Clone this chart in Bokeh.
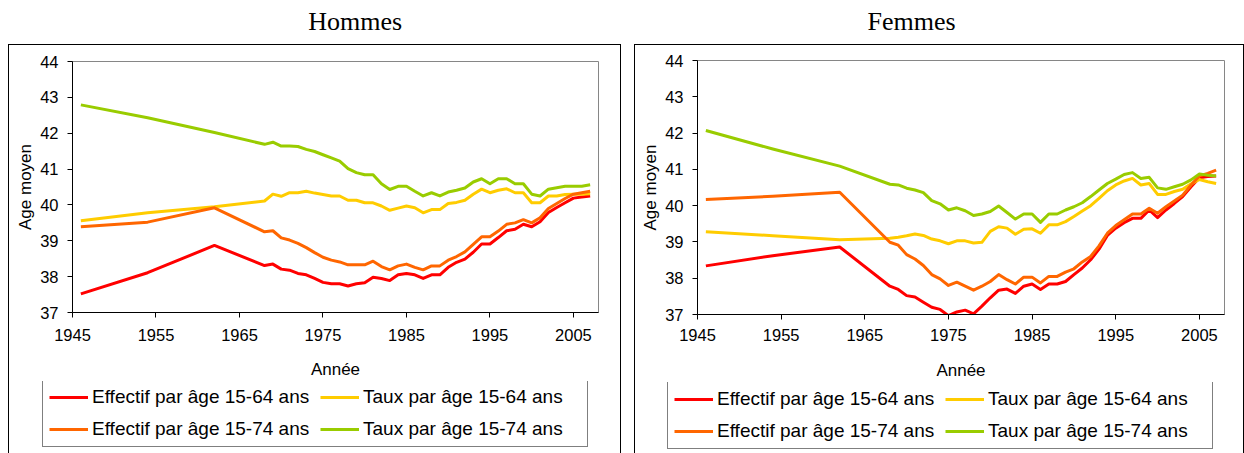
from bokeh.plotting import figure
from bokeh.models import Range1d, FixedTicker, Legend, LegendItem, Label, Spacer
from bokeh.layouts import row, column
from bokeh.embed import file_html
from bokeh.resources import INLINE

# ---------------- data ----------------
years = [1946, 1954, 1962] + list(range(1968, 2008))
x_ticks = [1945, 1955, 1965, 1975, 1985, 1995, 2005]
y_ticks = [37, 38, 39, 40, 41, 42, 43, 44]

labels = ["Effectif par âge 15-64 ans", "Taux par âge 15-64 ans",
          "Effectif par âge 15-74 ans", "Taux par âge 15-74 ans"]
colors = ["#FF0000", "#FFCC00", "#FF6600", "#99CC00"]

# Hommes
h_eff_1564 = [37.52, 38.11, 38.87,
              38.31, 38.35, 38.21, 38.18, 38.09, 38.05, 37.95, 37.84, 37.80, 37.80,
              37.74, 37.80, 37.83, 37.98, 37.95, 37.89, 38.05, 38.09, 38.05, 37.95,
              38.05, 38.05, 38.26, 38.40, 38.49, 38.68, 38.91, 38.91, 39.09, 39.28,
              39.32, 39.46, 39.39, 39.53, 39.79, 39.93, 40.06, 40.19, 40.22, 40.25]
h_taux_1564 = [39.56, 39.78, 39.95,
               40.11, 40.30, 40.24, 40.34, 40.34, 40.38, 40.33, 40.29, 40.25, 40.25,
               40.13, 40.13, 40.06, 40.06, 39.97, 39.85, 39.91, 39.97, 39.92, 39.78,
               39.87, 39.87, 40.04, 40.07, 40.13, 40.30, 40.44, 40.34, 40.41, 40.45,
               40.34, 40.34, 40.06, 40.06, 40.25, 40.25, 40.29, 40.30, 40.30, 40.31]
h_eff_1574 = [39.39, 39.52, 39.92,
              39.25, 39.28, 39.08, 39.02, 38.93, 38.81, 38.67, 38.54, 38.46, 38.41,
              38.33, 38.33, 38.33, 38.43, 38.28, 38.19, 38.30, 38.35, 38.26, 38.19,
              38.30, 38.30, 38.46, 38.56, 38.69, 38.90, 39.11, 39.11, 39.27, 39.46,
              39.50, 39.59, 39.50, 39.64, 39.90, 40.04, 40.18, 40.30, 40.34, 40.38]
h_taux_1574 = [42.79, 42.43, 42.02,
               41.69, 41.75, 41.64, 41.64, 41.63, 41.55, 41.49, 41.40, 41.31, 41.22,
               41.01, 40.90, 40.84, 40.84, 40.59, 40.43, 40.52, 40.52, 40.38, 40.25,
               40.34, 40.25, 40.36, 40.41, 40.47, 40.64, 40.73, 40.59, 40.73, 40.73,
               40.59, 40.59, 40.30, 40.25, 40.44, 40.48, 40.52, 40.52, 40.52, 40.56]

# Femmes
f_eff_1564 = [38.34, 38.62, 38.86,
              37.78, 37.69, 37.52, 37.48, 37.34, 37.20, 37.14, 36.97, 37.07, 37.12,
              37.02, 37.23, 37.46, 37.67, 37.70, 37.58, 37.78, 37.84, 37.69, 37.84,
              37.84, 37.91, 38.10, 38.28, 38.51, 38.80, 39.18, 39.38, 39.53, 39.65,
              39.65, 39.88, 39.67, 39.88, 40.06, 40.25, 40.52, 40.77, 40.80, 40.82]
f_taux_1564 = [39.28, 39.17, 39.06,
               39.10, 39.13, 39.17, 39.22, 39.18, 39.08, 39.03, 38.95, 39.03, 39.03,
               38.97, 38.99, 39.29, 39.42, 39.38, 39.21, 39.35, 39.36, 39.24, 39.47,
               39.47, 39.56, 39.70, 39.85, 40.00, 40.20, 40.41, 40.57, 40.68, 40.75,
               40.57, 40.61, 40.31, 40.31, 40.39, 40.45, 40.60, 40.72, 40.66, 40.61]
f_eff_1574 = [40.17, 40.26, 40.37,
              38.99, 38.91, 38.65, 38.53, 38.35, 38.10, 37.98, 37.80, 37.89, 37.78,
              37.67, 37.78, 37.91, 38.10, 37.96, 37.84, 38.03, 38.03, 37.87, 38.05,
              38.05, 38.17, 38.26, 38.45, 38.60, 38.89, 39.24, 39.45, 39.61, 39.77,
              39.77, 39.93, 39.79, 39.97, 40.13, 40.29, 40.57, 40.82, 40.89, 40.98]
f_taux_1574 = [42.07, 41.56, 41.09,
               40.59, 40.57, 40.48, 40.43, 40.36, 40.14, 40.05, 39.88, 39.94, 39.86,
               39.73, 39.77, 39.84, 39.99, 39.81, 39.63, 39.77, 39.77, 39.54, 39.77,
               39.77, 39.88, 39.97, 40.08, 40.25, 40.43, 40.61, 40.73, 40.86, 40.91,
               40.75, 40.78, 40.49, 40.45, 40.52, 40.59, 40.71, 40.87, 40.84, 40.82]

SANS = "Liberation Sans"
SERIF = "Liberation Serif"
BOX = {"border-top": "1px solid black", "border-left": "1px solid black",
       "border-right": "1px solid black"}


def bare_fig(width, height):
    f = figure(width=width, height=height, output_backend="svg", toolbar_location=None,
               x_axis_location=None, y_axis_location=None, min_border=0,
               x_range=Range1d(0, 1), y_range=Range1d(0, 1))
    if "frame_align" in f.properties():
        f.frame_align = False
    f.outline_line_color = None
    f.grid.visible = False
    f.background_fill_color = "white"
    f.border_fill_color = "white"
    return f


def title_fig(text, width, cx):
    t = bare_fig(width, 44)
    t.add_layout(Label(x=cx, y=23, x_units="screen", y_units="screen", text=text,
                       text_align="center", text_baseline="alphabetic",
                       text_font=SERIF, text_font_size="26px", text_color="black"))
    return t


def legend_fig(width, height, lx, ly):
    f = bare_fig(width, height)
    # legend-only renderers, kept outside the visible range
    rends = [f.line([-5, -4], [-5, -4], line_color=c, line_width=3) for c in colors]
    legend = Legend(items=[LegendItem(label=lab, renderers=[r]) for lab, r in zip(labels, rends)],
                    location=(lx, ly), orientation="horizontal", ncols=2,
                    border_line_color="black", border_line_width=1,
                    background_fill_color="white", background_fill_alpha=1,
                    padding=6, spacing=10, margin=0,
                    glyph_width=39, glyph_height=20, label_standoff=4,
                    label_width=218, label_height=21,
                    label_text_font=SANS, label_text_font_size="19px",
                    label_text_color="black")
    f.add_layout(legend)
    return column(f)


def make_panel(series, width, height, bl, br, bt, fh, xstand, xlstand):
    p = figure(width=width, height=height, output_backend="svg", toolbar_location=None,
               x_range=Range1d(1945, 2008), y_range=Range1d(37, 44),
               min_border_left=bl, min_border_right=br, min_border_top=bt,
               min_border_bottom=height - bt - fh)
    p.background_fill_color = "white"
    p.border_fill_color = "white"
    p.outline_line_color = "#868686"
    p.outline_line_width = 1
    p.grid.visible = False

    for ax, ticks in ((p.xaxis, x_ticks), (p.yaxis, y_ticks)):
        ax.ticker = FixedTicker(ticks=ticks)
        ax.minor_tick_line_color = None
        ax.major_tick_in = 0
        ax.major_tick_out = 5
        ax.axis_line_color = "black"
        ax.major_tick_line_color = "black"
        ax.major_label_text_font = SANS
        ax.major_label_text_font_size = "16.5px"
        ax.major_label_text_color = "black"
        ax.axis_label_text_font = SANS
        ax.axis_label_text_font_size = "17px"
        ax.axis_label_text_font_style = "normal"
        ax.axis_label_text_color = "black"
    p.xaxis.axis_label = "Année"
    p.yaxis.axis_label = "Age moyen"
    p.xaxis.major_label_standoff = xstand
    p.yaxis.major_label_standoff = 9
    p.xaxis.axis_label_standoff = xlstand
    p.yaxis.axis_label_standoff = 2

    for vals, col in zip(series, colors):
        p.line(years, vals, line_color=col, line_width=3, line_join="round")
    return p


left_main = make_panel([h_eff_1564, h_taux_1564, h_eff_1574, h_taux_1574],
                       width=611, height=336, bl=63, br=22, bt=16, fh=252,
                       xstand=11, xlstand=16)
right_main = make_panel([f_eff_1564, f_taux_1564, f_eff_1574, f_taux_1574],
                        width=608, height=337, bl=62, br=19, bt=15, fh=255,
                        xstand=9, xlstand=17)
left_leg = legend_fig(611, 72, 33, 6)
right_leg = legend_fig(608, 71, 32, 4)
left_title = title_fig("Hommes", 611, 346.6)
right_title = title_fig("Femmes", 608, 277)

left_box = column(left_main, left_leg, styles=BOX)
right_box = column(right_main, right_leg, styles=BOX)

layout = row(Spacer(width=8), column(left_title, left_box),
             Spacer(width=13), column(right_title, right_box))
open("out.html", "w").write(file_html(layout, INLINE))
